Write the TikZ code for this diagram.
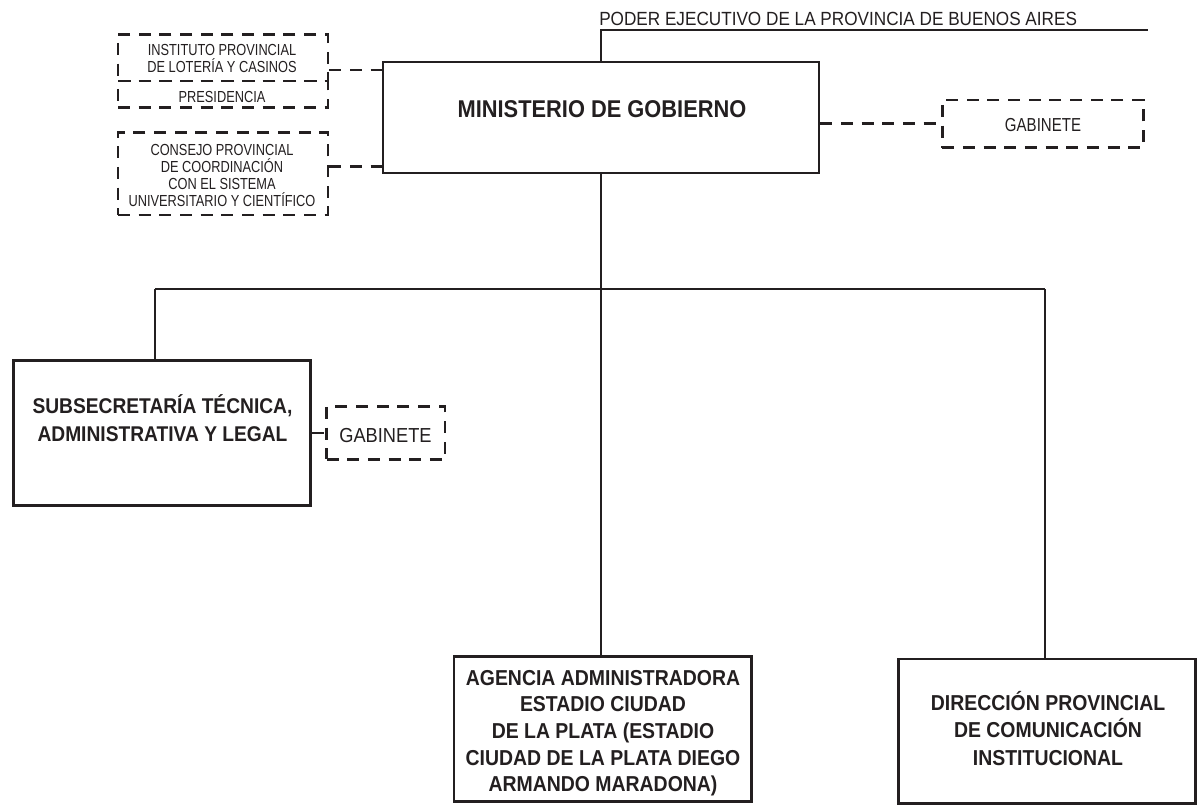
\documentclass[tikz,border=0pt]{standalone}
\usepackage{fontspec}
\setmainfont[FakeStretch=0.9]{Liberation Sans}
\newfontfamily\narrowf[FakeStretch=0.8]{Liberation Sans}
\definecolor{ink}{RGB}{35,31,32}
\tikzset{
  solidbox/.style={draw=ink, line width=2pt, rectangle, inner sep=0pt},
  dashbox/.style={draw=ink, line width=2pt, rectangle, inner sep=0pt, dash pattern=on 9pt off 6.5pt},
  conn/.style={draw=ink, line width=1.1pt},
  dashconn/.style={draw=ink, line width=2pt, dash pattern=on 9pt off 6.5pt},
  bigtxt/.style={text=ink, font=\bfseries\fontsize{16.2}{20}\selectfont, align=center, anchor=base, inner sep=0pt},
  smalltxt/.style={text=ink, font=\narrowf\fontsize{12}{12.75}\selectfont, align=center, anchor=base, inner sep=0pt}
}
\begin{document}
\begin{tikzpicture}[x=0.75pt,y=-0.75pt]
\useasboundingbox (0,0) rectangle (1203,811);
% boxes
\node[solidbox, minimum width=436*0.75pt, minimum height=111*0.75pt] (min) at (601,117.5) {};
\node[dashbox, minimum width=210*0.75pt, minimum height=46.7*0.75pt] (inst) at (223,57.7) {};
\node[dashbox, minimum width=210*0.75pt, minimum height=26.7*0.75pt] (pres) at (223,94.3) {};
\node[dashbox, minimum width=210*0.75pt, minimum height=82.7*0.75pt] (cons) at (223,173.7) {};
\node[dashbox, minimum width=201*0.75pt, minimum height=47.7*0.75pt] (gabr) at (1042.7,123.8) {};
\node[solidbox, minimum width=297.4*0.75pt, minimum height=145*0.75pt] (sub) at (162,433.2) {};
\node[dashbox, minimum width=118.3*0.75pt, minimum height=52.6*0.75pt] (gabs) at (385.8,433) {};
\node[solidbox, minimum width=297.7*0.75pt, minimum height=145*0.75pt] (age) at (602.8,729.2) {};
\node[solidbox, minimum width=297.4*0.75pt, minimum height=144.3*0.75pt] (dir) at (1047,731.2) {};
% texts (multi-line texts anchored at the baseline of their last line)
\node[text=ink, font=\fontsize{14.3}{16}\selectfont, anchor=base west, inner sep=0pt] (pe) at (599,25) {PODER EJECUTIVO DE LA PROVINCIA DE BUENOS AIRES};
\node[bigtxt, font=\bfseries\fontsize{18.2}{20}\selectfont] (mint) at (602,117) {MINISTERIO DE GOBIERNO};
\node[smalltxt, font=\narrowf\fontsize{14.1}{16}\selectfont] (gabrt) at (1043,131) {GABINETE};
\node[smalltxt] (instt) at (222,72) {INSTITUTO PROVINCIAL\\DE LOTERÍA Y CASINOS};
\node[smalltxt] (prest) at (222,102.3) {PRESIDENCIA};
\node[smalltxt] (const) at (222,206) {CONSEJO PROVINCIAL\\DE COORDINACIÓN\\CON EL SISTEMA\\UNIVERSITARIO Y CIENTÍFICO};
\node[bigtxt, font=\bfseries\fontsize{16}{21}\selectfont] (subt) at (162.5,441) {SUBSECRETARÍA TÉCNICA,\\ADMINISTRATIVA Y LEGAL};
\node[text=ink, font=\fontsize{15.2}{16}\selectfont, anchor=base, inner sep=0pt] (gabst) at (385.5,442) {GABINETE};
\node[bigtxt] (aget) at (603,791.7) {AGENCIA ADMINISTRADORA\\ESTADIO CIUDAD\\DE LA PLATA (ESTADIO\\CIUDAD DE LA PLATA DIEGO\\ARMANDO MARADONA)};
\node[bigtxt, font=\bfseries\fontsize{16.2}{20.6}\selectfont] (dirt) at (1048,765) {DIRECCIÓN PROVINCIAL\\DE COMUNICACIÓN\\INSTITUCIONAL};
% connectors
\coordinate (pe1) at (601,30);
\coordinate (pe2) at (1148,30);
\draw[conn] (min.north) -- (pe1) -- (pe2);
\coordinate (bus) at (601,289);
\coordinate (busl) at (155,289);
\coordinate (busr) at (1045,289);
\draw[conn] (min.south) -- (bus);
\draw[conn] (busl) -- (busr);
\draw[conn] (busl) -- (busl |- sub.north);
\draw[conn] (bus) -- (bus |- age.north);
\draw[conn] (busr) -- (busr |- dir.north);
\coordinate (yi) at (0,70);
\coordinate (yc) at (0,166.7);
\draw[dashconn] (inst.east |- yi) -- (min.west |- yi);
\draw[dashconn] (cons.east |- yc) -- (min.west |- yc);
\draw[dashconn] (min.east |- gabr.west) -- (gabr.west);
\draw[dashconn] (sub.east |- gabs.west) -- (gabs.west);
\end{tikzpicture}
\end{document}
